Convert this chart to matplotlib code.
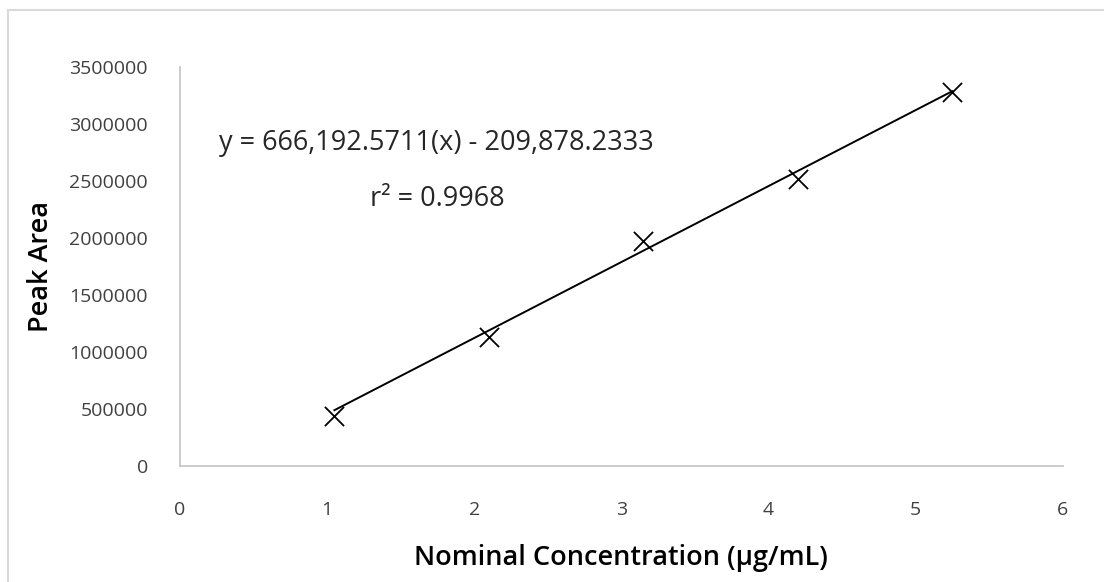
import numpy as np
import matplotlib
matplotlib.use('Agg')
import matplotlib.pyplot as plt
from matplotlib.patches import Rectangle

# data
conc = [1.05, 2.10, 3.15, 4.20, 5.25]
peak_area = [440000, 1130000, 1970000, 2515000, 3280000]
slope = 666192.5711
intercept = -209878.2333
r2 = 0.9968

plt.rcParams['font.family'] = ['Open Sans', 'DejaVu Sans']

fig = plt.figure(figsize=(11.04, 5.82), dpi=100)
ax = fig.add_axes([0.163, 0.1993, 0.7995, 0.6856])

# outer chart frame (clipped at the right/bottom like the reference)
fig.patches.append(Rectangle((8 / 1104, -0.05), 1.2, 1 - 10 / 582 + 0.05,
                             transform=fig.transFigure, fill=False,
                             edgecolor='#d9d9d9', linewidth=1.5))

ax.scatter(conc, peak_area, marker='x', s=190, color='black', linewidths=1.3, zorder=3)

xfit = np.array([conc[0], conc[-1]])
ax.plot(xfit, slope * xfit + intercept, color='black', linewidth=1.4, zorder=2)

ax.set_xlim(0, 6)
ax.set_ylim(0, 3500000)
ax.set_xticks(range(0, 7))
ax.set_yticks(range(0, 3500001, 500000))
ax.set_yticklabels([str(v) for v in range(0, 3500001, 500000)])
ax.tick_params(length=0, labelsize=14, colors='#404040')
ax.tick_params(axis='y', pad=23)
ax.tick_params(axis='x', pad=25)

for s in ['top', 'right']:
    ax.spines[s].set_visible(False)
for s in ['left', 'bottom']:
    ax.spines[s].set_color('#c8c8c8')
    ax.spines[s].set_linewidth(1.3)

ax.set_xlabel('Nominal Concentration (µg/mL)', fontsize=19.5, fontweight='semibold', labelpad=18)
ax.set_ylabel('Peak Area', fontsize=19.5, fontweight='semibold', labelpad=10)

ax.text(0.265, 2830000, 'y = 666,192.5711(x) - 209,878.2333', fontsize=19.5,
        color='#262626', va='center', ha='left')
ax.text(1.29, 2340000, 'r² = 0.9968', fontsize=19.5, color='#262626', va='center', ha='left')

fig.savefig('out.png', dpi=100)
